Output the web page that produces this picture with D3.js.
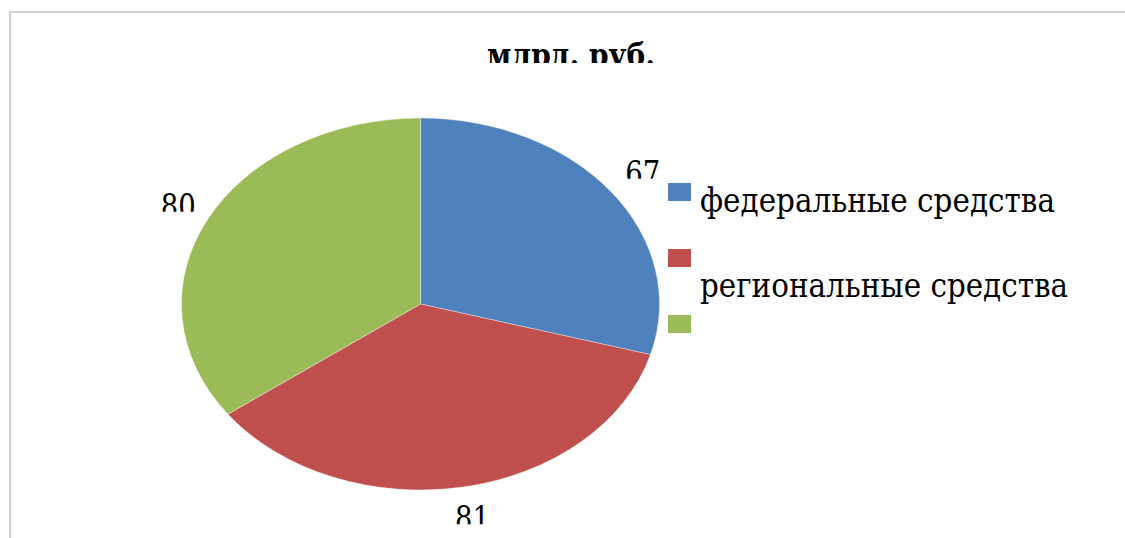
<!DOCTYPE html>
<html><head><meta charset="utf-8">
<script src="https://cdn.jsdelivr.net/npm/d3@7"></script>
<style>
html,body{margin:0;padding:0;background:#fff;}
svg{display:block;}
</style></head>
<body>
<svg id="c" width="1125" height="538"></svg>
<script>
const title = "млрд. руб.";
const categories = ["федеральные средства", "региональные средства", ""];
const values = [67, 81, 80];
const colors = ["#4f81bd", "#c0504d", "#9bbb59"];

const FONT = "'DejaVu Serif', 'Liberation Serif', 'Times New Roman', serif";
const svg = d3.select("#c");
const W = 1125, H = 538;
const defs = svg.append("defs");

// frame
svg.append("path")
  .attr("d", `M10,${H} L10,12 L${W},12`)
  .attr("fill", "none").attr("stroke", "#d0d0d0").attr("stroke-width", 2);

// title (clipped at bottom like the reference)
defs.append("clipPath").attr("id", "clipT")
  .append("rect").attr("x", 0).attr("y", 0).attr("width", W).attr("height", 63);
svg.append("text").attr("x", 571).attr("y", 66)
  .attr("text-anchor", "middle").attr("font-size", 32).attr("font-weight", "bold")
  .attr("font-family", FONT)
  .attr("textLength", 168).attr("lengthAdjust", "spacingAndGlyphs")
  .attr("clip-path", "url(#clipT)").text(title);

// pie
const cx = 420.5, cy = 304, rx = 239, ry = 186;
const pie = d3.pie().sort(null).value(d => d)(values);
const arc = d3.arc().innerRadius(0).outerRadius(rx);
const g = svg.append("g").attr("transform", `translate(${cx},${cy}) scale(1,${ry/rx})`);
g.selectAll("path").data(pie).join("path")
  .attr("d", arc)
  .attr("fill", (d, i) => colors[i])
  .attr("stroke", "#ffffff").attr("stroke-opacity", 0.6)
  .attr("stroke-width", 0.6).attr("vector-effect", "non-scaling-stroke");

// data labels
const kx = 1.15, ky = 1.17;
pie.forEach((d, i) => {
  const a = (d.startAngle + d.endAngle) / 2;
  const x = cx + rx * kx * Math.sin(a) + 3;
  const y = cy - ry * ky * Math.cos(a);
  const base = y + 12;
  defs.append("clipPath").attr("id", "clipL" + i)
    .append("rect").attr("x", x - 40).attr("y", base - 40).attr("width", 80).attr("height", 34);
  svg.append("text").attr("x", x).attr("y", base)
    .attr("text-anchor", "middle").attr("font-size", 33).attr("font-family", FONT)
    .attr("textLength", 35).attr("lengthAdjust", "spacingAndGlyphs")
    .attr("clip-path", `url(#clipL${i})`).text(values[i]);
});

// legend
const lx = 668, ly0 = 183, step = 66;
const legendWidths = [355, 368, 0];
categories.forEach((c, i) => {
  const y = ly0 + i * step;
  svg.append("rect").attr("x", lx).attr("y", y).attr("width", 23).attr("height", 18)
    .attr("fill", colors[i]);
  if (c) {
    const baseline = i === 0 ? y + 29 : y + 48;
    svg.append("text").attr("x", 700).attr("y", baseline)
      .attr("font-size", 34).attr("font-family", FONT)
      .attr("textLength", legendWidths[i]).attr("lengthAdjust", "spacingAndGlyphs")
      .text(c);
  }
});
</script>
</body></html>
